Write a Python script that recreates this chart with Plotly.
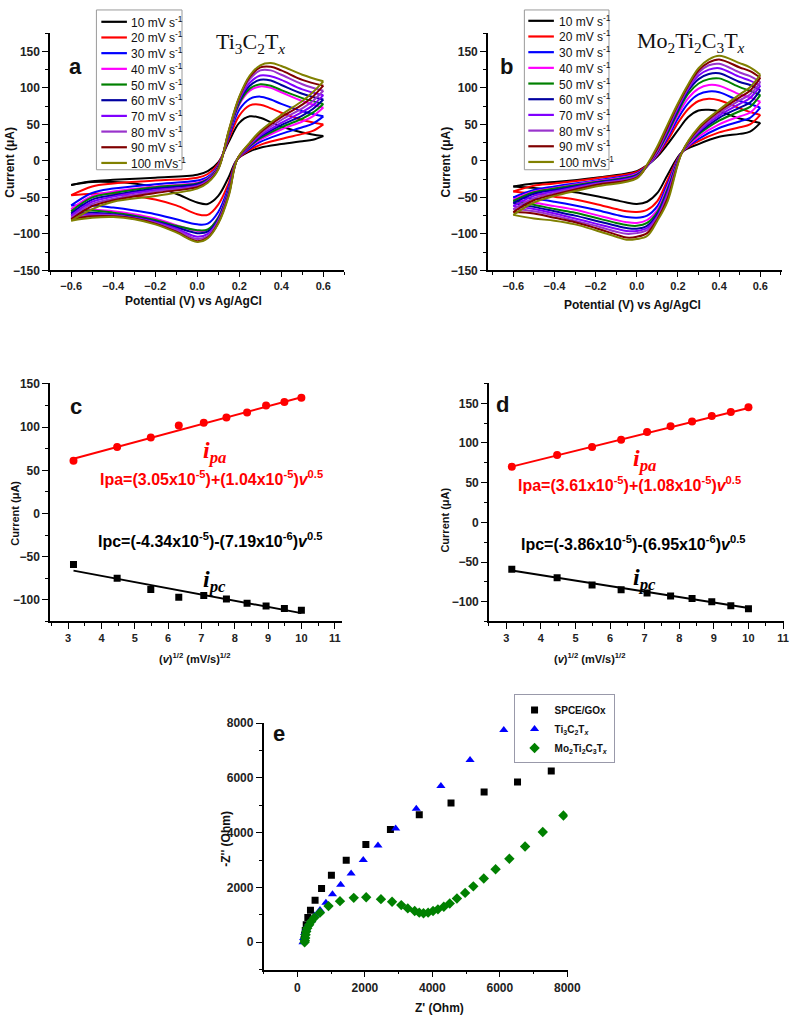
import plotly.graph_objects as go

W, H = 803, 1026
SANS = "Liberation Sans, Arial"
SERIF = "Liberation Serif, Times New Roman"

# ---------------- data ----------------
RATES = ["10 mV s<sup>-1</sup>", "20 mV s<sup>-1</sup>", "30 mV s<sup>-1</sup>", "40 mV s<sup>-1</sup>",
         "50 mV s<sup>-1</sup>", "60 mV s<sup>-1</sup>", "70 mV s<sup>-1</sup>", "80 mV s<sup>-1</sup>",
         "90 mV s<sup>-1</sup>", "100 mVs<sup>-1</sup>"]
COLORS = ["#000000", "#ff0000", "#0000ff", "#ff00ff", "#008000", "#0000a0",
          "#8000ff", "#9933cc", "#800000", "#808000"]

# Panel a (Ti3C2Tx): anodic sweep and cathodic sweep
A_FWD_V = [-0.6, -0.5, -0.4, -0.2, 0.0, 0.05, 0.1, 0.15, 0.2, 0.25, 0.3, 0.35, 0.4, 0.5, 0.6]
A_FWD_I = [
    [-33, -28, -26, -23, -19, -14, -2, 26, 52, 61, 59, 53, 47, 39, 34],
    [-47, -35, -31, -27, -23, -18, -4, 30, 62, 76, 77, 72, 66, 56, 50],
    [-61, -44, -38, -32, -27, -22, -6, 33, 70, 85, 88, 84, 78, 68, 61],
    [-66, -48, -42, -35, -30, -24, -7, 36, 77, 96, 102, 100, 94, 82, 73],
    [-69, -50, -44, -36, -31, -25, -8, 37, 79, 99, 105, 103, 97, 86, 78],
    [-72, -53, -47, -38, -32, -26, -9, 38, 82, 103, 111, 110, 104, 92, 84],
    [-75, -56, -49, -40, -34, -27, -10, 39, 84, 107, 117, 116, 111, 98, 90],
    [-78, -59, -52, -42, -35, -28, -10, 40, 86, 112, 124, 124, 118, 105, 96],
    [-80, -62, -54, -44, -36, -29, -11, 41, 87, 115, 128, 129, 124, 111, 103],
    [-82, -66, -56, -48, -38, -30, -12, 42, 88, 117, 131, 134, 130, 118, 109],
]
A_REV_V = [0.6, 0.55, 0.5, 0.4, 0.3, 0.25, 0.19, 0.15, 0.1, 0.05, 0.0, -0.1, -0.2, -0.3, -0.4, -0.5, -0.6]
A_REV_I = [
    [34, 29, 27, 23, 18, 13, 2, -22, -48, -59, -57, -45, -36, -31, -29, -29, -33],
    [50, 41, 37, 30, 22, 15, 2, -30, -60, -74, -73, -61, -53, -48, -45, -45, -47],
    [61, 51, 46, 37, 26, 17, 2, -35, -70, -86, -87, -80, -73, -68, -64, -61, -61],
    [73, 61, 54, 43, 29, 19, 2, -39, -77, -95, -96, -88, -79, -73, -69, -67, -66],
    [78, 66, 58, 46, 31, 20, 2, -40, -78, -94, -95, -89, -81, -75, -71, -68, -69],
    [84, 71, 62, 49, 33, 21, 2, -42, -80, -97, -99, -91, -83, -77, -73, -71, -72],
    [90, 76, 67, 52, 35, 22, 2, -43, -82, -100, -104, -93, -84, -78, -74, -73, -75],
    [96, 82, 72, 56, 37, 23, 2, -45, -83, -103, -107, -95, -85, -79, -75, -75, -78],
    [103, 88, 77, 60, 39, 24, 2, -46, -85, -105, -110, -97, -86, -79, -76, -76, -80],
    [109, 94, 82, 63, 41, 25, 2, -48, -86, -106, -111, -98, -87, -80, -77, -78, -82],
]

# Panel b (Mo2Ti2C3Tx)
B_FWD_V = [-0.6, -0.5, -0.4, -0.2, 0.0, 0.05, 0.1, 0.15, 0.2, 0.25, 0.3, 0.35, 0.4, 0.5, 0.55, 0.6]
B_FWD_I = [
    [-35, -31, -29, -23, -14, -6, 6, 23, 42, 60, 69, 70, 68, 58, 55, 52],
    [-42, -34, -31, -24, -15, -6, 8, 28, 52, 71, 82, 85, 83, 72, 67, 63],
    [-50, -40, -35, -27, -17, -7, 9, 32, 58, 79, 91, 95, 94, 82, 78, 73],
    [-53, -42, -37, -28, -18, -7, 10, 35, 63, 86, 99, 104, 103, 91, 87, 81],
    [-55, -43, -38, -29, -19, -7, 12, 38, 67, 92, 106, 112, 113, 101, 96, 90],
    [-58, -45, -40, -30, -20, -7, 13, 41, 70, 96, 112, 119, 120, 108, 104, 97],
    [-62, -48, -42, -31, -21, -7, 14, 43, 73, 99, 117, 125, 127, 115, 110, 103],
    [-66, -51, -44, -32, -22, -7, 15, 45, 75, 101, 121, 131, 133, 121, 116, 108],
    [-70, -54, -46, -33, -23, -6, 17, 47, 77, 103, 124, 135, 139, 128, 123, 114],
    [-74, -57, -48, -35, -24, -5, 20, 50, 79, 105, 127, 139, 144, 134, 128, 118],
]
B_REV_V = [0.6, 0.55, 0.5, 0.4, 0.3, 0.22, 0.15, 0.1, 0.05, 0.0, -0.05, -0.1, -0.2, -0.3, -0.4, -0.5, -0.6]
B_REV_I = [
    [52, 40, 37, 33, 23, 12, -19, -44, -56, -59, -57, -54, -48, -43, -40, -37, -35],
    [63, 50, 46, 39, 27, 12, -26, -55, -67, -70, -69, -66, -59, -53, -49, -45, -42],
    [73, 59, 54, 45, 30, 12, -31, -62, -75, -78, -77, -74, -67, -61, -56, -52, -50],
    [81, 66, 61, 50, 33, 12, -35, -67, -81, -85, -84, -81, -74, -67, -62, -57, -53],
    [90, 74, 68, 55, 36, 12, -38, -70, -85, -89, -88, -85, -78, -71, -66, -60, -55],
    [97, 80, 73, 59, 38, 12, -41, -73, -89, -93, -92, -89, -82, -75, -69, -63, -58],
    [103, 86, 78, 62, 40, 12, -44, -76, -92, -96, -96, -93, -86, -79, -72, -66, -62],
    [108, 91, 83, 65, 42, 12, -47, -78, -95, -99, -100, -97, -89, -82, -75, -69, -66],
    [114, 96, 87, 68, 44, 12, -51, -80, -99, -104, -105, -101, -92, -84, -78, -72, -70],
    [118, 101, 91, 70, 46, 12, -55, -82, -103, -107, -108, -104, -95, -87, -82, -79, -74],
]

# Panels c, d: peak currents vs sqrt(scan rate)
SQRT_V = [3.16, 4.47, 5.48, 6.32, 7.07, 7.75, 8.37, 8.94, 9.49, 10.0]
C_IPA = [61, 77, 88, 102, 105, 111, 117, 125, 129, 134]
C_IPC = [-59, -75, -88, -97, -95, -99, -104, -107, -110, -112]
D_IPA = [70, 85, 95, 104, 114, 121, 127, 134, 139, 145]
D_IPC = [-59, -70, -79, -85, -89, -93, -96, -100, -105, -109]
FIT_X = [3.16, 10.0]
C_IPA_FIT = [63.4, 134.5]
C_IPC_FIT = [-66.1, -115.3]
D_IPA_FIT = [70.2, 144.1]
D_IPC_FIT = [-60.6, -108.1]

# Panel e: Nyquist
E_SPCE_X = [200, 215, 233, 262, 309, 387, 524, 716, 1008, 1447, 2029, 2757, 3612, 4553, 5534, 6524, 7524]
E_SPCE_Y = [100, 250, 430, 640, 900, 1170, 1530, 1960, 2450, 2990, 3570, 4120, 4650, 5080, 5480, 5850, 6250]
E_TI_X = [165, 184, 214, 262, 320, 408, 515, 670, 845, 1039, 1282, 1592, 1952, 2388, 2913, 3524, 4253, 5117, 6117]
E_TI_Y = [0, 156, 336, 492, 637, 793, 973, 1177, 1441, 1754, 2102, 2511, 3003, 3532, 4156, 4877, 5706, 6655, 7748]
E_MO_X = [214, 223, 233, 243, 262, 291, 350, 408, 505, 670, 922, 1262, 1670, 2039, 2476, 2806, 3078,
          3272, 3476, 3612, 3738, 3874, 4020, 4165, 4340, 4515, 4728, 4971, 5214, 5524, 5874, 6282,
          6748, 7272, 7884]
E_MO_Y = [0, 60, 156, 276, 396, 516, 637, 757, 901, 1081, 1321, 1502, 1622, 1646, 1574, 1478, 1357,
          1237, 1141, 1081, 1057, 1081, 1141, 1201, 1297, 1417, 1598, 1802, 2042, 2330, 2667, 3051,
          3496, 4024, 4625]


def px(x):
    return x / W


def py(y):
    return 1 - y / H


fig = go.Figure()

# ---- CV panels ----
for (ax, fv, fi, rv, ri) in [("", A_FWD_V, A_FWD_I, A_REV_V, A_REV_I),
                             ("2", B_FWD_V, B_FWD_I, B_REV_V, B_REV_I)]:
    for k in range(len(RATES)):
        common = dict(xaxis="x" + ax, yaxis="y" + ax, mode="lines",
                      line=dict(color=COLORS[k], width=2, shape="spline", smoothing=1.0),
                      legendgroup="cv" + ax + str(k), showlegend=False, hoverinfo="skip")
        fig.add_trace(go.Scatter(x=fv, y=fi[k], name=RATES[k], **common))
        fig.add_trace(go.Scatter(x=rv, y=ri[k], name=RATES[k], **common))

# ---- c, d ----
for (ax, ipa, ipc, fa, fc) in [("3", C_IPA, C_IPC, C_IPA_FIT, C_IPC_FIT),
                               ("4", D_IPA, D_IPC, D_IPA_FIT, D_IPC_FIT)]:
    fig.add_trace(go.Scatter(x=FIT_X, y=fa, mode="lines", line=dict(color="#ff0000", width=2),
                             xaxis="x" + ax, yaxis="y" + ax, showlegend=False))
    fig.add_trace(go.Scatter(x=FIT_X, y=fc, mode="lines", line=dict(color="#000000", width=2),
                             xaxis="x" + ax, yaxis="y" + ax, showlegend=False))
    fig.add_trace(go.Scatter(x=SQRT_V, y=ipa, mode="markers",
                             marker=dict(color="#ff0000", size=8, symbol="circle"),
                             xaxis="x" + ax, yaxis="y" + ax, showlegend=False))
    fig.add_trace(go.Scatter(x=SQRT_V, y=ipc, mode="markers",
                             marker=dict(color="#000000", size=7, symbol="square"),
                             xaxis="x" + ax, yaxis="y" + ax, showlegend=False))

# ---- e ----
fig.add_trace(go.Scatter(x=E_SPCE_X, y=E_SPCE_Y, mode="markers", name="SPCE/GOx",
                         marker=dict(color="#000000", size=7, symbol="square"),
                         xaxis="x5", yaxis="y5", legend="legend3"))
fig.add_trace(go.Scatter(x=E_TI_X, y=E_TI_Y, mode="markers",
                         name="Ti<sub>3</sub>C<sub>2</sub>T<sub><i>x</i></sub>",
                         marker=dict(color="#0000ff", size=8, symbol="triangle-up"),
                         xaxis="x5", yaxis="y5", legend="legend3"))
fig.add_trace(go.Scatter(x=E_MO_X, y=E_MO_Y, mode="markers",
                         name="Mo<sub>2</sub>Ti<sub>2</sub>C<sub>3</sub>T<sub><i>x</i></sub>",
                         marker=dict(color="#008000", size=8, symbol="diamond"),
                         xaxis="x5", yaxis="y5", legend="legend3"))


def axis_style(anchor, domain, rng, dtick, minor_dtick, tick0=None, tickformat=None, fs=12, tl=6):
    d = dict(anchor=anchor, domain=domain, range=rng, showline=True, linecolor="#000", linewidth=1.6,
             ticks="outside", ticklen=tl, tickwidth=1.4, tickcolor="#000",
             showgrid=False, zeroline=False,
             tickfont=dict(family=SANS, size=fs, color="#222", weight="bold"), dtick=dtick,
             minor=dict(ticks="outside", ticklen=3, tickwidth=1.2, tickcolor="#000", dtick=minor_dtick),
             fixedrange=True)
    if tick0 is not None:
        d["tick0"] = tick0
    if tickformat:
        d["tickformat"] = tickformat
    return d


fig.update_layout(
    width=W, height=H, margin=dict(l=0, r=0, t=0, b=0),
    paper_bgcolor="white", plot_bgcolor="white", showlegend=True,
    xaxis=axis_style("y", [px(51), px(350)], [-0.7, 0.7], 0.2, 0.1, tick0=-0.6, tickformat=".1f", fs=11, tl=5),
    yaxis=axis_style("x", [py(267), py(26.5)], [-150, 175], 50, 25, tick0=0),
    xaxis2=axis_style("y2", [px(496), px(795)], [-0.723, 0.706], 0.2, 0.1, tick0=-0.6, tickformat=".1f", fs=11, tl=5),
    yaxis2=axis_style("x2", [py(267), py(26.5)], [-150, 175], 50, 25, tick0=0),
    xaxis3=axis_style("y3", [px(51), px(348)], [2.46, 11.23], 1, 0.5, tick0=3, fs=11),
    yaxis3=axis_style("x3", [py(623), py(381.7)], [-125, 150.5], 50, 25, tick0=0),
    xaxis4=axis_style("y4", [px(497), px(797)], [2.5, 11.03], 1, 0.5, tick0=3, fs=11),
    yaxis4=axis_style("x4", [py(623), py(381.7)], [-125, 175], 50, 25, tick0=0),
    xaxis5=axis_style("y5", [px(268), px(577)], [-1000, 8010], 2000, 1000, tick0=0),
    yaxis5=axis_style("x5", [py(976), py(725.7)], [-1000, 8010], 2000, 1000, tick0=0),
    legend3=dict(x=px(522), y=py(697), xanchor="left", yanchor="top", bgcolor="white",
                 bordercolor="#99a", borderwidth=1,
                 font=dict(family=SANS, size=10, color="#111", weight="bold"),
                 itemwidth=30, tracegroupgap=0),
)

# ---- scan-rate keys for panels a and b (compact boxed keys) ----
shapes = []
for (bx0, bx1, lx0, lx1, tx, y0) in [(98, 185, 103, 129, 131, 15), (533, 619, 537, 563, 566, 14)]:
    shapes.append(dict(type="rect", xref="paper", yref="paper", x0=px(bx0), x1=px(bx1),
                       y0=py(165), y1=py(3), line=dict(color="#9a9a9a", width=1),
                       fillcolor="white", layer="above"))
    for k in range(len(RATES)):
        yy = y0 + 15.9 * k
        shapes.append(dict(type="line", xref="paper", yref="paper", x0=px(lx0), x1=px(lx1),
                           y0=py(yy), y1=py(yy), line=dict(color=COLORS[k], width=2.2), layer="above"))
        fig.add_annotation(x=px(tx), y=py(yy), xref="paper", yref="paper", text=RATES[k],
                           showarrow=False, xanchor="left", yanchor="middle",
                           font=dict(family=SANS, size=12, color="#111"))
fig.update_layout(shapes=shapes)


def ann(x, y, text, size=12, color="#111", family=SANS, bold=True, angle=0, xanchor="center"):
    fig.add_annotation(x=px(x), y=py(y), xref="paper", yref="paper", text=text, showarrow=False,
                       xanchor=xanchor, yanchor="middle", textangle=angle,
                       font=dict(family=family, size=size, color=color,
                                 weight="bold" if bold else "normal"))


# axis titles
ann(197, 298, "Potential (V) vs Ag/AgCl", 12)
ann(643, 302, "Potential (V) vs Ag/AgCl", 12)
ann(10, 157, "Current (μA)", 12, angle=-90)
ann(453, 157, "Current (μA)", 12, angle=-90)
ann(15, 513, "Current (μA)", 11, angle=-90)
ann(452, 520, "Current (μA)", 11, angle=-90)
ann(198, 660, "(<i>v</i>)<sup>1/2</sup> (mV/s)<sup>1/2</sup>", 11)
ann(600, 660, "(<i>v</i>)<sup>1/2</sup> (mV/s)<sup>1/2</sup>", 11)
ann(230, 843, "-Z'' (Ohm)", 12, angle=-90)
ann(447, 1015, "Z' (Ohm)", 12)

# panel letters
ann(77, 60, "a", 22)
ann(515, 60, "b", 22)
ann(77, 405, "c", 22)
ann(511, 403, "d", 22)
ann(284, 737, "e", 22)

# compound titles
ann(255, 37, "Ti<sub>3</sub>C<sub>2</sub>T<sub><i>x</i></sub>", 22, family=SERIF, bold=False)
ann(702, 35, "Mo<sub>2</sub>Ti<sub>2</sub>C<sub>3</sub>T<sub><i>x</i></sub>", 22, family=SERIF, bold=False)

# equations and labels
ann(218, 451, "<i>i<sub>pa</sub></i>", 24, color="#ff0000", family=SERIF)
ann(215, 478, "Ipa=(3.05x10<sup>-5</sup>)+(1.04x10<sup>-5</sup>)<i>v</i><sup>0.5</sup>", 16, color="#ff0000")
ann(213, 540, "Ipc=(-4.34x10<sup>-5</sup>)-(7.19x10<sup>-6</sup>)<i>v</i><sup>0.5</sup>", 16, color="#000")
ann(218, 582, "<i>i<sub>pc</sub></i>", 24, color="#000", family=SERIF)

ann(655, 459, "<i>i<sub>pa</sub></i>", 24, color="#ff0000", family=SERIF)
ann(640, 484, "Ipa=(3.61x10<sup>-5</sup>)+(1.08x10<sup>-5</sup>)<i>v</i><sup>0.5</sup>", 16, color="#ff0000")
ann(643, 543, "Ipc=(-3.86x10<sup>-5</sup>)-(6.95x10<sup>-6</sup>)<i>v</i><sup>0.5</sup>", 16, color="#000")
ann(655, 580, "<i>i<sub>pc</sub></i>", 24, color="#000", family=SERIF)

fig.write_html("out.html")
